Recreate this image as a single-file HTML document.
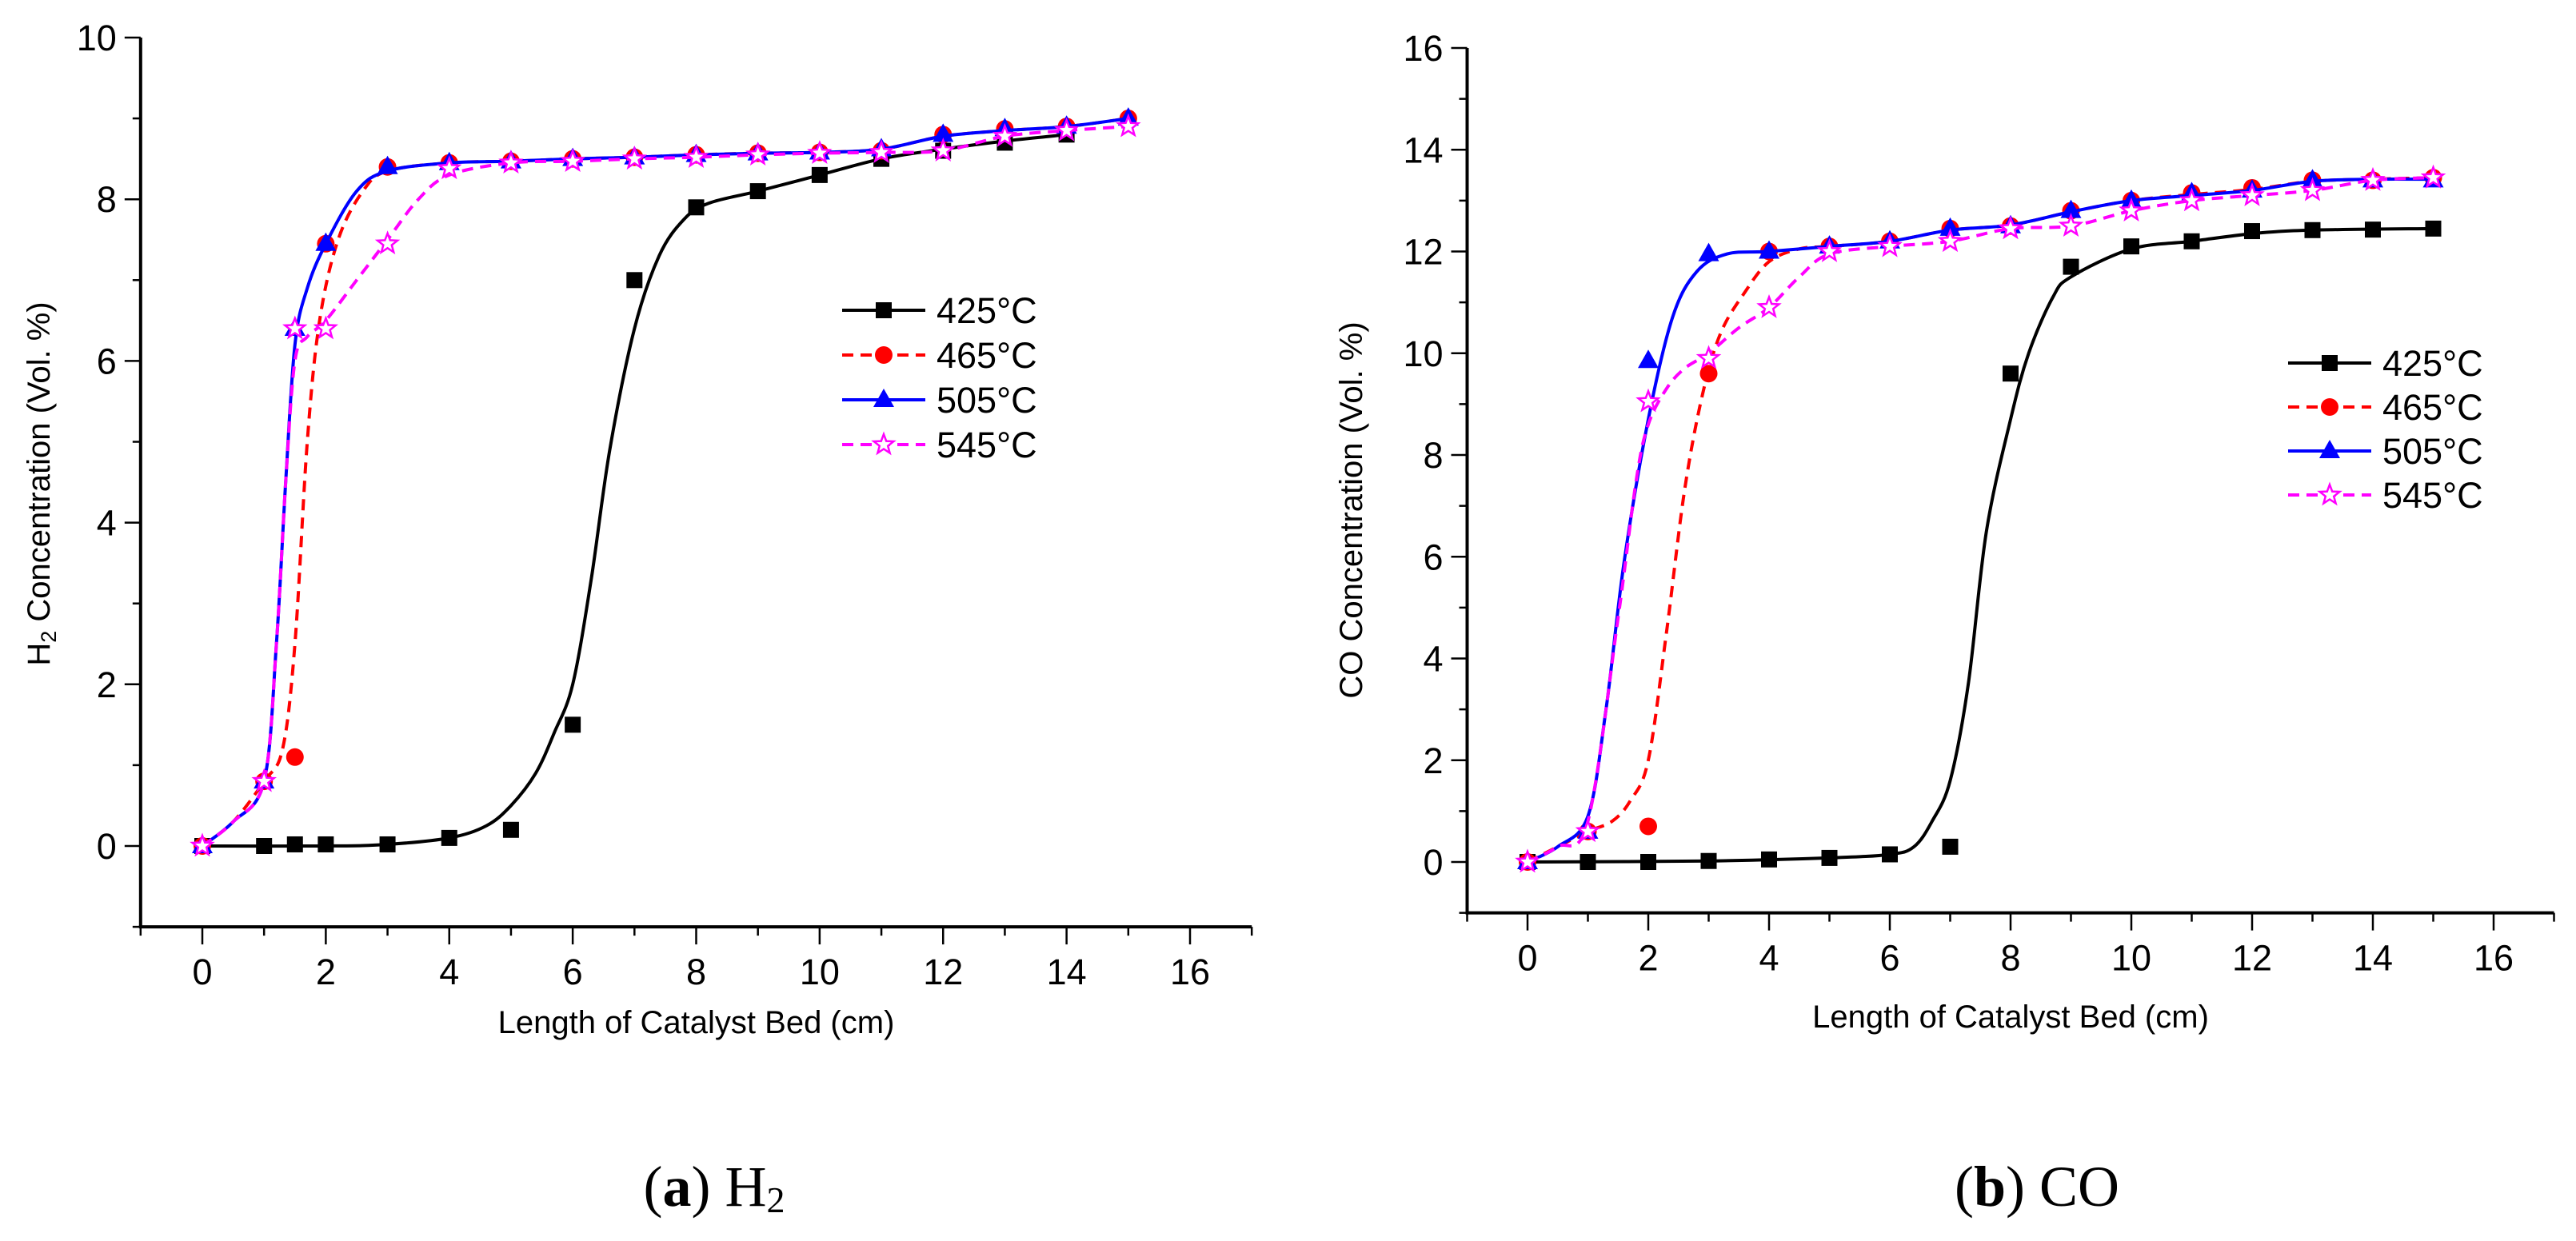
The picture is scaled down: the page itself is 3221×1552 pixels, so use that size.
<!DOCTYPE html>
<html><head><meta charset="utf-8"><style>
html,body{margin:0;padding:0;background:#fff;}
svg{display:block;font-family:"Liberation Sans",sans-serif;}
</style></head><body>
<svg id="fig" width="3221" height="1552" viewBox="0 0 3221 1552" xmlns="http://www.w3.org/2000/svg">
<rect width="3221" height="1552" fill="#fff"/>
<g id="chartA"></g>
<g id="chartB"></g>
<text x="893" y="1508" text-anchor="middle" font-family="Liberation Serif, serif" font-size="72">(<tspan font-weight="bold">a</tspan>) H<tspan font-size="46" dy="8">2</tspan></text>
<text x="2547" y="1508" text-anchor="middle" font-family="Liberation Serif, serif" font-size="72">(<tspan font-weight="bold">b</tspan>) CO</text>
</svg>
<script>
const seriesNames = ["425°C","465°C","505°C","545°C"];
// Chart A (H2)
const aX = [[0,1,1.5,2,3,4,5,6,7,8,9,10,11,12,13,14],
            [0,1,1.5,2,3,4,5,6,7,8,9,10,11,12,13,14,15],
            [0,1,1.5,2,3,4,5,6,7,8,9,10,11,12,13,14,15],
            [0,1,1.5,2,3,4,5,6,7,8,9,10,11,12,13,14,15]];
const aY425 = [0,0,0.02,0.02,0.02,0.1,0.2,1.5,7.0,7.9,8.1,8.3,8.5,8.6,8.7,8.8];
const aY465 = [0,0.8,1.1,7.45,8.4,8.45,8.47,8.5,8.52,8.55,8.57,8.58,8.6,8.8,8.87,8.9,9.0];
const aY505 = [0,0.8,6.4,7.45,8.4,8.45,8.47,8.5,8.52,8.55,8.57,8.58,8.62,8.8,8.87,8.9,9.0];
const aY545 = [0,0.8,6.4,6.4,7.45,8.38,8.45,8.47,8.5,8.52,8.55,8.57,8.58,8.6,8.78,8.85,8.9];
const aC425x = [0,2,3,4,4.6,5,5.4,5.7,6,6.3,6.6,7,7.4,7.8,8.2,9,10,11,12,13,14];
const aC425y = [0,0,0.02,0.1,0.25,0.5,0.9,1.4,2.0,3.3,4.9,6.4,7.3,7.75,7.95,8.1,8.3,8.5,8.62,8.72,8.8];
const aC465x = [0,0.5,1,1.3,1.5,1.7,1.9,2.2,2.6,3,4,5,6,7,8,9,10,11,12,13,14,15];
const aC465y = [0,0.3,0.8,1.2,2.5,5,6.5,7.5,8.1,8.35,8.45,8.47,8.5,8.52,8.55,8.57,8.58,8.62,8.78,8.85,8.9,9.0];
const aC505x = [0,0.5,1,1.2,1.35,1.5,1.7,2,2.5,3,4,5,6,7,8,9,10,11,12,13,14,15];
const aC505y = [0,0.3,0.8,2.5,4.5,6.2,6.9,7.45,8.1,8.35,8.45,8.47,8.5,8.52,8.55,8.57,8.58,8.62,8.78,8.85,8.9,9.0];
const aC545x = [0,0.5,1,1.2,1.35,1.5,1.7,2,2.5,3,3.5,4,5,6,7,8,9,10,11,12,13,14,15];
const aC545y = [0,0.3,0.8,2.5,4.5,6.0,6.3,6.5,7.0,7.5,8.0,8.3,8.45,8.47,8.5,8.52,8.55,8.57,8.58,8.6,8.78,8.85,8.9];
// Chart B (CO)
const bXs = [0,1,2,3,4,5,6,7,8,9,10,11,12,13,14,15];
const bY425 = [0,0,0,0.02,0.05,0.08,0.15,0.3,9.6,11.7,12.1,12.2,12.4,12.42,12.43,12.45];
const bY465 = [0,0.6,0.7,9.6,12.0,12.1,12.2,12.45,12.5,12.8,13.0,13.15,13.25,13.4,13.4,13.45];
const bY505 = [0,0.6,9.85,11.95,12.0,12.1,12.2,12.45,12.5,12.8,13.0,13.15,13.2,13.4,13.4,13.4];
const bY545 = [0,0.6,9.05,9.9,10.9,12.0,12.1,12.2,12.45,12.5,12.8,13.0,13.1,13.2,13.4,13.45];
const bC425x = [0,3,5,6,6.4,6.7,7,7.3,7.6,8,8.3,8.7,9,10,11,12,13,15];
const bC425y = [0,0.02,0.08,0.15,0.3,0.8,1.6,3.5,6.5,8.7,10,11.1,11.5,12.05,12.2,12.35,12.42,12.45];
const bC465x = [0,0.5,1,1.4,1.7,2,2.3,2.6,2.9,3.2,3.6,4,4.5,5,6,7,8,9,10,11,12,13,14,15];
const bC465y = [0,0.3,0.6,0.8,1.2,2,4.5,7.3,9.2,10.4,11.2,11.8,12.05,12.1,12.2,12.42,12.52,12.78,13.0,13.12,13.22,13.38,13.42,13.45];
const bC505x = [0,0.5,1,1.3,1.6,2,2.4,2.8,3.3,4,5,6,7,8,9,10,11,12,13,14,15];
const bC505y = [0,0.3,0.9,3,5.9,8.7,10.7,11.6,11.95,12.0,12.1,12.2,12.42,12.52,12.78,13.0,13.1,13.2,13.38,13.42,13.42];
const bC545x = [0,0.5,1,1.5,1.8,2,2.3,2.6,3,3.5,4,4.5,5,6,7,8,9,10,11,12,13,14,15];
const bC545y = [0,0.3,0.8,4.8,7.5,8.6,9.3,9.7,10,10.5,10.9,11.5,11.95,12.1,12.2,12.45,12.5,12.8,13.0,13.1,13.2,13.4,13.45];
const xTicks = [0,2,4,6,8,10,12,14,16];
const aYTicks = [0,2,4,6,8,10];
const bYTicks = [0,2,4,6,8,10,12,14,16];

const NS="http://www.w3.org/2000/svg";
const colors=["#000","#f00","#00f","#f0f"];
const dashes=[null,"14,9",null,"14,9"];
function mk(tag,attrs,parent){const e=document.createElementNS(NS,tag);for(const k in attrs)e.setAttribute(k,attrs[k]);parent.appendChild(e);return e;}
function smooth(pts){let d="M"+pts[0][0]+","+pts[0][1];for(let i=0;i<pts.length-1;i++){const p0=pts[Math.max(0,i-1)],p1=pts[i],p2=pts[i+1],p3=pts[Math.min(pts.length-1,i+2)];const c1x=p1[0]+(p2[0]-p0[0])/6,c1y=p1[1]+(p2[1]-p0[1])/6,c2x=p2[0]-(p3[0]-p1[0])/6,c2y=p2[1]-(p3[1]-p1[1])/6;d+=" C"+c1x+","+c1y+" "+c2x+","+c2y+" "+p2[0]+","+p2[1];}return d;}
function marker(g,k,cx,cy){
 let e;
 if(k===0){e=mk("rect",{x:cx-10,y:cy-10,width:20,height:20,fill:"#000"},g);}
 else if(k===1){e=mk("circle",{cx:cx,cy:cy,r:11,fill:"#f00"},g);}
 else if(k===2){e=mk("polygon",{points:`${cx},${cy-14} ${cx+13},${cy+9} ${cx-13},${cy+9}`,fill:"#00f"},g);}
 else {let p=[];for(let i=0;i<10;i++){const r=i%2?5.5:13,a=-Math.PI/2+i*Math.PI/5;p.push((cx+r*Math.cos(a)).toFixed(1)+","+(cy+r*Math.sin(a)).toFixed(1));}
   e=mk("polygon",{points:p.join(" "),fill:"#fff",stroke:"#f0f","stroke-width":2.5},g);}
 return e;
}
function chart(g,cfg){
 const sx=v=>cfg.x0+(v)*(cfg.x16-cfg.x0)/16;
 const sy=v=>cfg.y0+(v)*(cfg.yTop-cfg.y0)/cfg.yMax;
 const left=sx(-1), right=sx(17), bottom=sy(-1), top=sy(cfg.yMax);
 const ax=mk("g",{},g);
 
 
 mk("line",{x1:left,y1:top,x2:left,y2:bottom,stroke:"#000","stroke-width":4},ax);
 mk("line",{x1:left-2,y1:bottom,x2:right,y2:bottom,stroke:"#000","stroke-width":4},ax);
 for(let v=-1;v<=17;v++){const x=sx(v);const major=v%2===0;mk("line",{x1:x,y1:bottom,x2:x,y2:bottom+(major?22:11),stroke:"#000","stroke-width":2.5},ax);}
 xTicks.forEach(v=>{const t=mk("text",{x:sx(v),y:bottom+72,"text-anchor":"middle","font-size":45},ax);t.textContent=v;
  
  });
 for(let v=-1;v<=cfg.yMax;v++){const y=sy(v);const major=v%2===0;mk("line",{x1:left,y1:y,x2:left-(major?20:10),y2:y,stroke:"#000","stroke-width":2.5},ax);}
 cfg.yTicks.forEach(v=>{const t=mk("text",{x:left-30,y:sy(v)+16,"text-anchor":"end","font-size":45},ax);t.textContent=v;
  
  });
 const xt=mk("text",{x:(sx(-1)+sx(17))/2,y:cfg.xTitleY,"text-anchor":"middle","font-size":40},g);xt.textContent="Length of Catalyst Bed (cm)";
 
 
 const yt=mk("text",{x:0,y:0,"text-anchor":"middle","font-size":40,transform:`translate(${cfg.yTitleX},${cfg.yTitleY}) rotate(-90)`},g);
 yt.innerHTML=cfg.yTitle;
 
 
 cfg.series.forEach((s,k)=>{
  const sg=mk("g",{},g);
  
  
  const pts=s.cx.map((v,i)=>[sx(v),sy(s.cy[i])]);
  const a={d:smooth(pts),fill:"none",stroke:colors[k],"stroke-width":4};if(dashes[k])a["stroke-dasharray"]=dashes[k];
  const p=mk("path",a,sg);
  
  
  s.x.forEach((v,i)=>{const m=marker(sg,k,sx(v),sy(s.y[i]));
   
   });
 });
 const lg=mk("g",{},g);
 
 
 seriesNames.forEach((n,k)=>{const y=cfg.legY+k*cfg.legDy;
  const ent=mk("g",{},lg);
  
  
  const a={x1:cfg.legX,y1:y,x2:cfg.legX+104,y2:y,stroke:colors[k],"stroke-width":4};if(dashes[k])a["stroke-dasharray"]="14,9";
  mk("line",a,ent);marker(ent,k,cfg.legX+52,y);
  const t=mk("text",{x:cfg.legX+118,y:y+16,"font-size":45},ent);t.textContent=n;});
}
chart(document.getElementById("chartA"),{x0:253,x16:1488,y0:1058,yTop:47,yMax:10,yTicks:aYTicks,xTitleY:1292,yTitleX:62,yTitleY:605,
 yTitle:'H<tspan font-size="27" dy="8">2</tspan><tspan dy="-8"> Concentration (Vol. %)</tspan>',legX:1053,legY:388,legDy:56,
 series:[{x:aX[0],y:aY425,cx:aC425x,cy:aC425y},{x:aX[1],y:aY465,cx:aC465x,cy:aC465y},{x:aX[2],y:aY505,cx:aC505x,cy:aC505y},{x:aX[3],y:aY545,cx:aC545x,cy:aC545y}]});
chart(document.getElementById("chartB"),{x0:1910,x16:3118,y0:1078,yTop:60,yMax:16,yTicks:bYTicks,xTitleY:1285,yTitleX:1703,yTitleY:638,
 yTitle:'CO Concentration (Vol. %)',legX:2861,legY:454,legDy:55,
 series:[{x:bXs,y:bY425,cx:bC425x,cy:bC425y},{x:bXs,y:bY465,cx:bC465x,cy:bC465y},{x:bXs,y:bY505,cx:bC505x,cy:bC505y},{x:bXs,y:bY545,cx:bC545x,cy:bC545y}]});
</script>
</body></html>
